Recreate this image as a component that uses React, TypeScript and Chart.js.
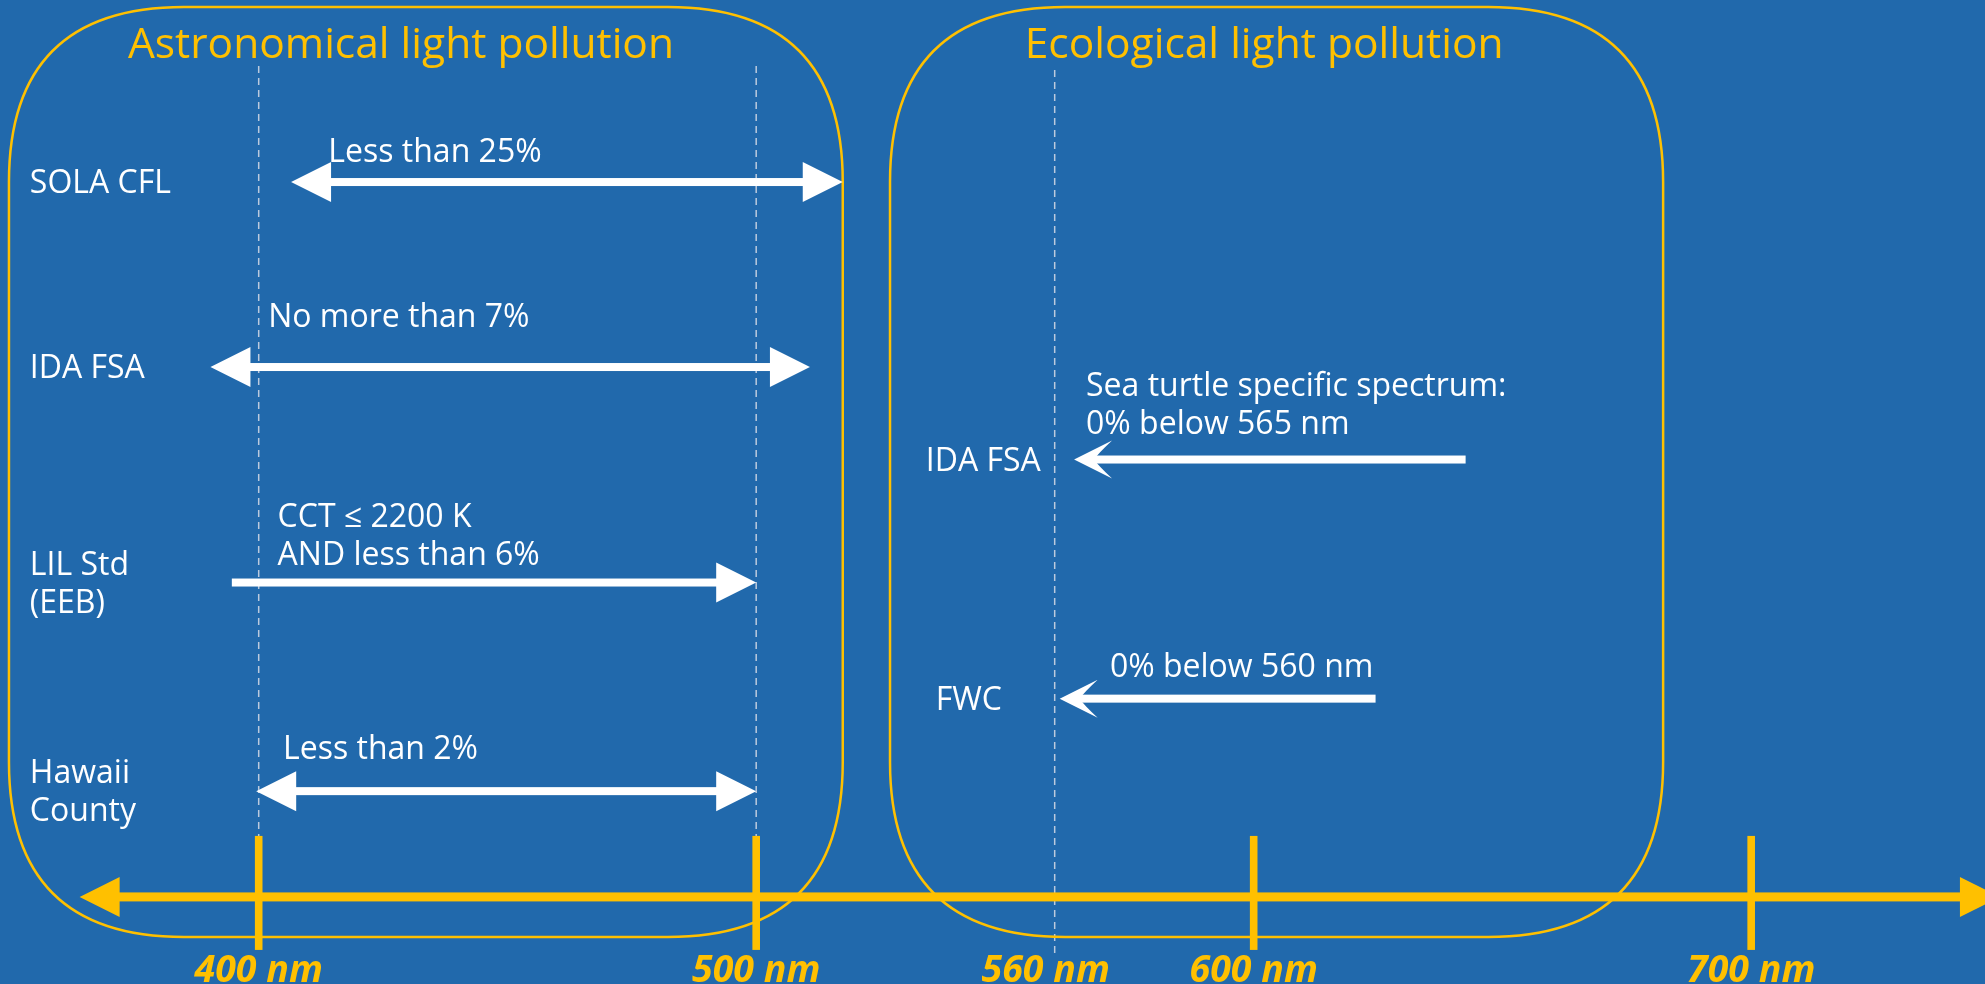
import React, { useEffect, useRef } from "react";
import { Chart, registerables } from "chart.js";

Chart.register(...registerables);

// ---------- data ----------
const axisTicks = [400, 500, 600, 700];
const axisLabelValues = [400, 500, 560, 600, 700];
const axisLabels = ["400 nm", "500 nm", "560 nm", "600 nm", "700 nm"];
const guideLines = [400, 500, 560];
const axisRange = [364, 750];

const groupTitles = ["Astronomical light pollution", "Ecological light pollution"];
const groupTitleCenters = [428.6, 602.1];
const groupFrom = [349.8, 526.9];
const groupTo = [517.4, 682.3];

const astroNames = [["SOLA CFL"], ["IDA FSA"], ["LIL Std", "(EEB)"], ["Hawaii", "County"]];
const astroFrom = [406.5, 390.3, 394.6, 399.5];
const astroTo = [517.4, 510.8, 500, 500];
const astroHeads = ["both", "both", "end", "both"];
const astroLevels = [8.15, 6.27, 4.08, 1.96];
const astroNotes = [["Less than 25%"], ["No more than 7%"], ["CCT ≤ 2200 K", "AND less than 6%"], ["Less than 2%"]];
const astroNoteX = [414, 401.9, 403.8, 404.9];
const astroNoteLevels = [8.35, 6.68, 4.645, 2.29];

const ecoNames = [["IDA FSA"], ["FWC"]];
const ecoNameX = [534.1, 536.1];
const ecoFrom = [563.9, 561];
const ecoTo = [642.6, 624.5];
const ecoLevels = [5.33, 2.9];
const ecoNotes = [["Sea turtle specific spectrum:", "0% below 565 nm"], ["0% below 560 nm"]];
const ecoNoteX = [566.3, 571.1];
const ecoNoteLevels = [5.975, 3.12];

const axisLevel = 0.885;
const labelX = 354;

// ---------- styles ----------
const BG = "#2169AC";
const YELLOW = "#FFC000";
const WHITE = "#FFFFFF";
const FONT = '"Open Sans", "DejaVu Sans", sans-serif';

const drawPlugin = {
  id: "diagram",
  beforeDraw(chart: any) {
    const { ctx, width, height } = chart;
    ctx.save();
    ctx.fillStyle = BG;
    ctx.fillRect(0, 0, width, height);
    ctx.restore();
  },
  afterDraw(chart: any) {
    const ctx: CanvasRenderingContext2D = chart.ctx;
    const xs = chart.scales.x;
    const ys = chart.scales.y;
    const X = (v: number) => xs.getPixelForValue(v);
    const Y = (v: number) => ys.getPixelForValue(v);
    const axisY = Y(axisLevel);

    ctx.save();

    // dashed guide lines
    ctx.strokeStyle = "rgba(215,220,230,0.85)";
    ctx.lineWidth = 1.5;
    ctx.setLineDash([7, 5]);
    guideLines.forEach((v) => {
      const isTick = axisTicks.includes(v);
      ctx.beginPath();
      ctx.moveTo(X(v), isTick ? 66 : 70);
      ctx.lineTo(X(v), isTick ? axisY - 61 : axisY + 56);
      ctx.stroke();
    });
    ctx.setLineDash([]);

    // rounded group boxes
    const rr = (x0: number, y0: number, x1: number, y1: number, r: number) => {
      ctx.beginPath();
      ctx.moveTo(x0 + r, y0);
      ctx.lineTo(x1 - r, y0);
      ctx.quadraticCurveTo(x1, y0, x1, y0 + r);
      ctx.lineTo(x1, y1 - r);
      ctx.quadraticCurveTo(x1, y1, x1 - r, y1);
      ctx.lineTo(x0 + r, y1);
      ctx.quadraticCurveTo(x0, y1, x0, y1 - r);
      ctx.lineTo(x0, y0 + r);
      ctx.quadraticCurveTo(x0, y0, x0 + r, y0);
      ctx.closePath();
    };
    ctx.strokeStyle = YELLOW;
    ctx.lineWidth = 2.5;
    groupFrom.forEach((f, i) => {
      rr(X(f), Y(9.93), X(groupTo[i]), Y(0.478), 175);
      ctx.stroke();
    });

    // titles
    ctx.fillStyle = YELLOW;
    ctx.font = `42.5px ${FONT}`;
    ctx.textAlign = "center";
    ctx.textBaseline = "alphabetic";
    groupTitles.forEach((t, i) => {
      ctx.fillText(t, X(groupTitleCenters[i]), 58);
    });

    // arrowheads
    const tri = (tipX: number, y: number, dir: number, len: number, half: number) => {
      ctx.beginPath();
      ctx.moveTo(tipX, y);
      ctx.lineTo(tipX - dir * len, y - half);
      ctx.lineTo(tipX - dir * len, y + half);
      ctx.closePath();
      ctx.fill();
    };
    const stealth = (tipX: number, y: number, dir: number) => {
      const len = 38, half = 19, notch = 20;
      ctx.beginPath();
      ctx.moveTo(tipX, y);
      ctx.lineTo(tipX - dir * len, y - half);
      ctx.quadraticCurveTo(tipX - dir * (notch + 4), y - 6, tipX - dir * notch, y);
      ctx.quadraticCurveTo(tipX - dir * (notch + 4), y + 6, tipX - dir * len, y + half);
      ctx.closePath();
      ctx.fill();
    };

    // axis
    ctx.fillStyle = YELLOW;
    const ax0 = X(axisRange[0]);
    const ax1 = X(axisRange[1]);
    ctx.fillRect(ax0 + 30, axisY - 4.5, ax1 - ax0 - 60, 9);
    tri(ax0, axisY, -1, 40, 20);
    tri(ax1, axisY, 1, 40, 20);
    axisTicks.forEach((v) => {
      ctx.fillRect(X(v) - 3.8, axisY - 61, 7.6, 114);
    });
    ctx.font = `italic bold 37.5px ${FONT}`;
    ctx.textAlign = "center";
    axisLabelValues.forEach((v, i) => {
      const nudge = axisTicks.includes(v) ? 0 : -9;
      ctx.fillText(axisLabels[i], X(v) + nudge, 982);
    });

    // white arrows
    ctx.fillStyle = WHITE;
    const shaft = 8;
    astroFrom.forEach((f, i) => {
      const y = Y(astroLevels[i]);
      const a = X(f), b = X(astroTo[i]);
      const h = astroHeads[i];
      const s0 = h === "both" ? a + 30 : a;
      const s1 = b - 30;
      ctx.fillRect(s0, y - shaft / 2, s1 - s0, shaft);
      if (h === "both") tri(a, y, -1, 40, 20);
      tri(b, y, 1, 40, 20);
    });
    ecoFrom.forEach((f, i) => {
      const y = Y(ecoLevels[i]);
      const a = X(f), b = X(ecoTo[i]);
      ctx.fillRect(a + 18, y - shaft / 2, b - a - 18, shaft);
      stealth(a, y, -1);
    });

    // text
    const LH = 38;
    ctx.font = `32px ${FONT}`;
    ctx.textAlign = "left";
    const block = (lines: string[], x: number, yMid: number) => {
      const first = yMid + 11 - ((lines.length - 1) * LH) / 2;
      lines.forEach((l, k) => ctx.fillText(l, x, first + k * LH));
    };
    astroNames.forEach((n, i) => block(n, X(labelX), Y(astroLevels[i])));
    ecoNames.forEach((n, i) => block(n, X(ecoNameX[i]), Y(ecoLevels[i])));
    const notes = (lines: string[], x: number, firstBase: number) => {
      lines.forEach((l, k) => ctx.fillText(l, x, firstBase + k * LH));
    };
    astroNotes.forEach((n, i) => notes(n, X(astroNoteX[i]), Y(astroNoteLevels[i])));
    ecoNotes.forEach((n, i) => notes(n, X(ecoNoteX[i]), Y(ecoNoteLevels[i])));

    ctx.restore();
  },
};

export default function App() {
  const ref = useRef<HTMLCanvasElement | null>(null);
  useEffect(() => {
    document.body.style.margin = "0";
    document.body.style.overflow = "hidden";
    document.body.style.background = BG;
    if (!ref.current) return;
    const chart = new Chart(ref.current, {
      type: "scatter",
      data: { datasets: [{ data: [], pointRadius: 0 }] },
      options: {
        responsive: false,
        animation: false,
        devicePixelRatio: 1,
        layout: { padding: 0 },
        plugins: { legend: { display: false }, tooltip: { enabled: false } },
        scales: {
          x: { type: "linear", min: 348, max: 747, display: false },
          y: { type: "linear", min: 0, max: 10, display: false },
        },
      },
      plugins: [drawPlugin],
    });
    return () => chart.destroy();
  }, []);
  return <canvas ref={ref} width={1985} height={984} style={{ display: "block" }} />;
}
